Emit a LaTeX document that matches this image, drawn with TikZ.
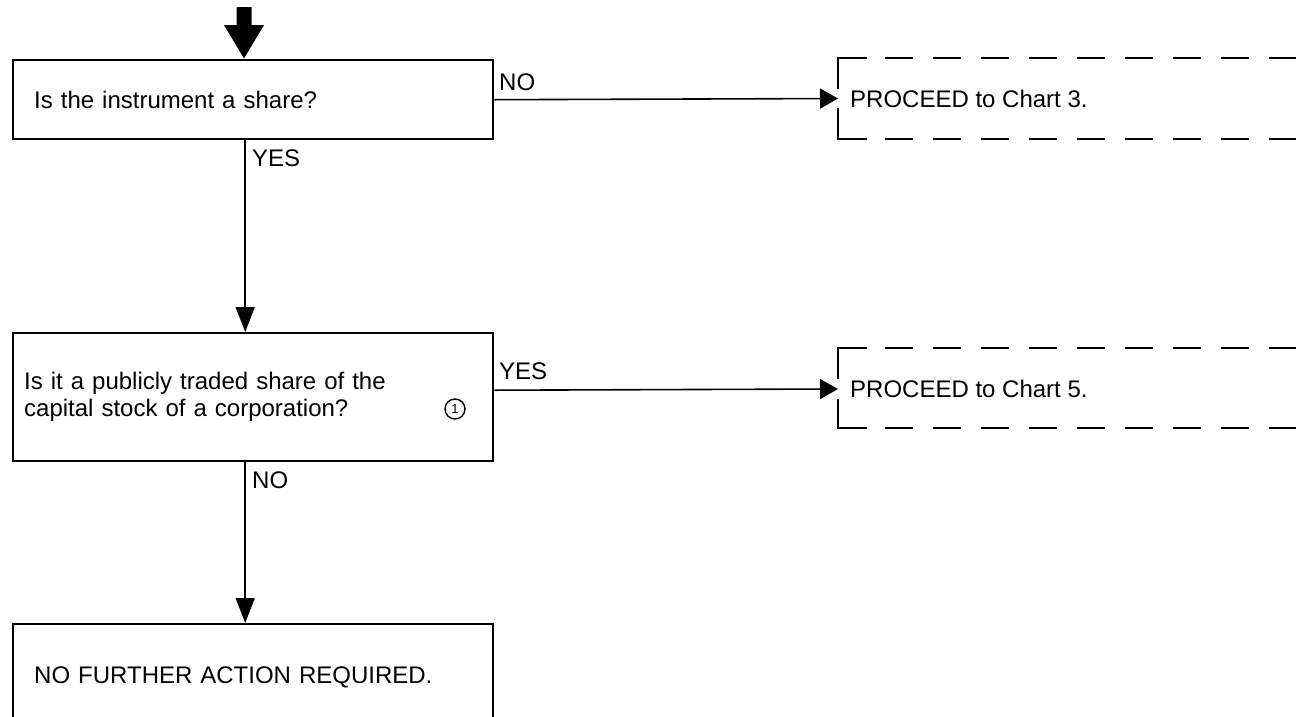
\documentclass[tikz,border=0pt]{standalone}
\usepackage{fontspec}
\setmainfont{Liberation Sans}
\usetikzlibrary{arrows.meta}
\begin{document}
\begin{tikzpicture}[x=1pt,y=-1pt,
  txtfont/.style={font=\fontsize{24}{27}\selectfont},
  box/.style={draw, line width=2.4pt, inner ysep=0pt, align=left, txtfont},
  conn/.style={line width=1.6pt},
  vconn/.style={conn, -{Triangle[length=25pt,width=19pt]}},
  hconn/.style={conn, -{Triangle[length=18pt,width=20pt]}},
  lbl/.style={txtfont, inner sep=0pt, anchor=base west},
  bracket/.style={line width=2.4pt},
  dashline/.style={line width=2.4pt, dash pattern=on 28pt off 20pt},
  note/.style={draw, circle, line width=1.4pt, minimum size=20pt, inner sep=0pt, font=\fontsize{13}{13}\selectfont}
]
\useasboundingbox (0,0) rectangle (1296,716);

% entry arrow
\fill (236.5,7) -- (251.5,7) -- (251.5,25) -- (264,25) -- (244,58.5) -- (224,25) -- (236.5,25) -- cycle;

% question boxes
\node[box, anchor=north west, minimum width=480pt, minimum height=79pt,
      text width=438pt, inner xsep=21pt] (q1) at (12,59) {Is the instrument a share?};
\node[box, anchor=north west, minimum width=480pt, minimum height=128pt,
      text width=458pt, inner xsep=11pt] (q2) at (12,332)
      {Is it a publicly traded share of the\\capital stock of a corporation?};
\node[note] (fn1) at (455,409) {1};
\node[box, anchor=north west, minimum width=480pt, minimum height=106pt,
      text width=438pt, inner xsep=21pt] (q3) at (12,623) {NO FURTHER ACTION REQUIRED.};

% referral frames (open on the right)
\node[lbl, anchor=west] (c3) at (850,98.5) {PROCEED to Chart 3.};
\coordinate (c3in) at (838,98.5);
\draw[bracket] (867,58) -- (838,58) -- (838,89);
\draw[bracket] (838,108) -- (838,139) -- (867,139);
\draw[dashline] (885,58) -- (1310,58);
\draw[dashline] (885,139) -- (1310,139);

\node[lbl, anchor=west] (c5) at (850,389) {PROCEED to Chart 5.};
\coordinate (c5in) at (838,389);
\draw[bracket] (867,348) -- (838,348) -- (838,379);
\draw[bracket] (838,399) -- (838,428) -- (867,428);
\draw[dashline] (885,348) -- (1310,348);
\draw[dashline] (885,428) -- (1310,428);

% connectors
\draw[hconn] (q1.east) -- (c3in);
\draw[hconn] ([yshift=7pt]q2.east) -- (c5in);
\draw[vconn] ([xshift=-8pt]q1.south) -- ([xshift=-8pt]q2.north);
\draw[vconn] ([xshift=-8pt]q2.south) -- ([xshift=-8pt]q3.north);

% branch labels
\node[lbl] (no1) at (499,90) {NO};
\node[lbl] (yes1) at (252,166) {YES};
\node[lbl] (yes2) at (499,379) {YES};
\node[lbl] (no2) at (252,488) {NO};
\end{tikzpicture}
\end{document}
